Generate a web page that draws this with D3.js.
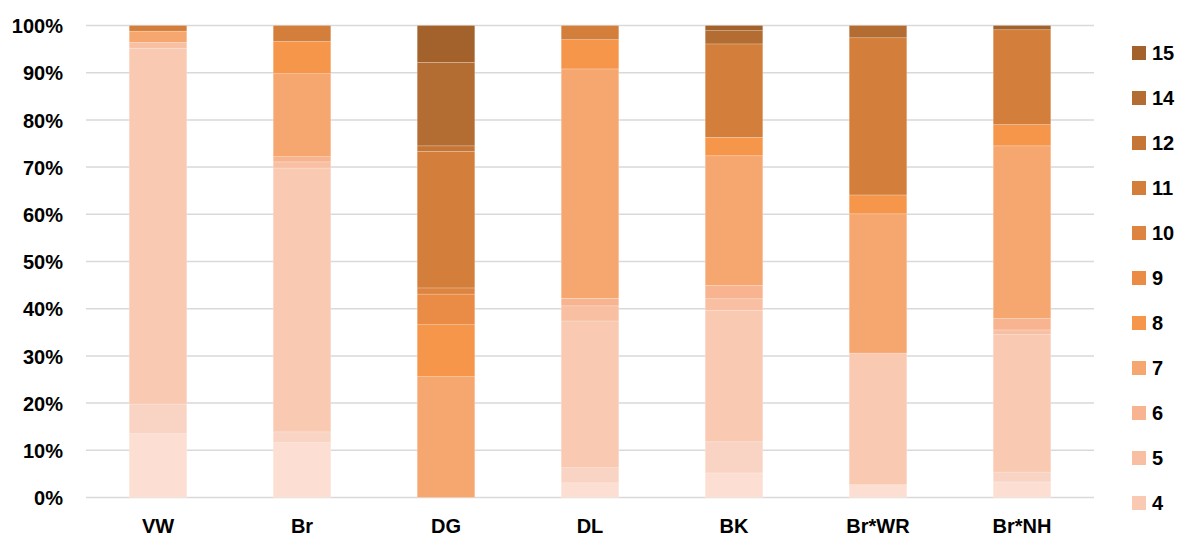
<!DOCTYPE html>
<html>
<head>
<meta charset="utf-8">
<script src="https://cdn.jsdelivr.net/npm/d3@7/dist/d3.min.js"></script>
<style>
  html, body { margin: 0; padding: 0; background: #fff; }
  svg { display: block; }
  text { font-family: "Liberation Sans", Arial, sans-serif; font-weight: bold; fill: #000; }
</style>
</head>
<body>
<div id="chart"></div>
<script>
// Categories (x axis)
const categories = ["VW", "Br", "DG", "DL", "BK", "Br*WR", "Br*NH"];

// Series names, bottom of stack first ("2","3" are clipped from the legend in the original)
const seriesNames = ["2", "3", "4", "5", "6", "7", "8", "9", "10", "11", "12", "14", "15"];

// Legend entries shown (top to bottom)
const legendNames = ["15", "14", "12", "11", "10", "9", "8", "7", "6", "5", "4"];

// Series values (percent), one value per category in the order above
const s2  = [13.5, 11.6, 0.0,  3.1,  5.2,  2.7,  3.3];
const s3  = [ 6.3,  2.3, 0.0,  3.2,  6.6,  0.0,  2.1];
const s4  = [75.4, 55.9, 0.0, 31.1, 27.8, 27.9, 29.1];
const s5  = [ 1.2,  1.3, 0.0,  3.2,  2.5,  0.0,  1.0];
const s6  = [ 0.0,  1.1, 0.0,  1.6,  2.8,  0.0,  2.4];
const s7  = [ 2.4, 17.6, 25.6, 48.6, 27.5, 29.5, 36.6];
const s8  = [ 0.0,  6.8, 11.0,  6.2,  3.9,  4.0,  4.5];
const s9  = [ 0.0,  0.0,  6.5,  0.0,  0.0,  0.0,  0.0];
const s10 = [ 0.0,  0.0,  1.3,  0.0,  0.0,  0.0,  0.0];
const s11 = [ 1.2,  3.4, 28.9,  3.0, 19.8, 33.3, 20.1];
const s12 = [ 0.0,  0.0,  1.2,  0.0,  0.0,  0.0,  0.0];
const s14 = [ 0.0,  0.0, 17.7,  0.0,  2.8,  2.6,  0.0];
const s15 = [ 0.0,  0.0,  7.8,  0.0,  1.1,  0.0,  0.9];

const seriesValues = [s2, s3, s4, s5, s6, s7, s8, s9, s10, s11, s12, s14, s15];

// Colours per series
const seriesColors = ["#fcded2", "#f9d4c4", "#f9c9b1", "#f8bfa2", "#f8b490", "#f6a76f",
                      "#f5964a", "#ea8c45", "#dd8441", "#d37e3a", "#c57535", "#b36c31", "#a3622b"];

// Y tick labels
const yTicks = [0, 0.1, 0.2, 0.3, 0.4, 0.5, 0.6, 0.7, 0.8, 0.9, 1.0];

const W = 1183, H = 538;
const svg = d3.select("#chart").append("svg").attr("width", W).attr("height", H);

const plotLeft = 86, plotRight = 1094, plotTop = 25.5, plotBottom = 497.5;

const x = d3.scaleBand().domain(categories).range([plotLeft, plotRight])
  .paddingInner(0.6).paddingOuter(0.3);
const y = d3.scaleLinear().domain([0, 1]).range([plotBottom, plotTop]);
const color = d3.scaleOrdinal().domain(seriesNames).range(seriesColors);

// Build table and normalise to 100%
const table = categories.map((c, i) => {
  const row = { category: c };
  let total = 0;
  seriesNames.forEach((s, k) => { total += seriesValues[k][i]; });
  seriesNames.forEach((s, k) => { row[s] = seriesValues[k][i] / total; });
  return row;
});

const stacked = d3.stack().keys(seriesNames)(table);

// Gridlines
svg.append("g").selectAll("line").data(yTicks).join("line")
  .attr("x1", plotLeft).attr("x2", plotRight)
  .attr("y1", d => y(d)).attr("y2", d => y(d))
  .attr("stroke", "#d9d9d9").attr("stroke-width", 1.5);

// Bars
svg.append("g").selectAll("g").data(stacked).join("g")
  .attr("fill", d => color(d.key))
  .selectAll("rect").data(d => d).join("rect")
  .attr("x", d => x(d.data.category))
  .attr("width", x.bandwidth())
  .attr("y", d => y(d[1]))
  .attr("height", d => Math.max(0, y(d[0]) - y(d[1])))
  .attr("stroke", "rgba(255,255,255,0.35)")
  .attr("stroke-width", d => (d[1] - d[0]) > 0 ? 0.6 : 0);

// Y axis
const yAxis = d3.axisLeft(y).tickValues(yTicks).tickFormat(d3.format(".0%")).tickSize(0).tickPadding(0);
const yg = svg.append("g").attr("transform", `translate(63,0)`).call(yAxis);
yg.select(".domain").remove();
yg.selectAll("text").attr("font-size", 20).attr("font-family", "Liberation Sans, Arial, sans-serif")
  .attr("font-weight", "bold").attr("fill", "#000").attr("dy", "0.36em");

// X axis
const xAxis = d3.axisBottom(x).tickSize(0).tickPadding(0);
const xg = svg.append("g").attr("transform", `translate(0,${plotBottom + 21})`).call(xAxis);
xg.select(".domain").remove();
xg.selectAll("text").attr("font-size", 20).attr("font-family", "Liberation Sans, Arial, sans-serif")
  .attr("font-weight", "bold").attr("fill", "#000").attr("dy", "0.71em");

// Legend
const legend = svg.append("g");
const ly = d3.scalePoint().domain(legendNames).range([53, 503]);
const li = legend.selectAll("g").data(legendNames).join("g")
  .attr("transform", d => `translate(1132,${ly(d)})`);
li.append("rect").attr("x", 0).attr("y", -7).attr("width", 14).attr("height", 14)
  .attr("fill", d => color(d));
li.append("text").attr("x", 20).attr("y", 0).attr("dy", "0.36em")
  .attr("font-size", 20).text(d => d);
</script>
</body>
</html>
